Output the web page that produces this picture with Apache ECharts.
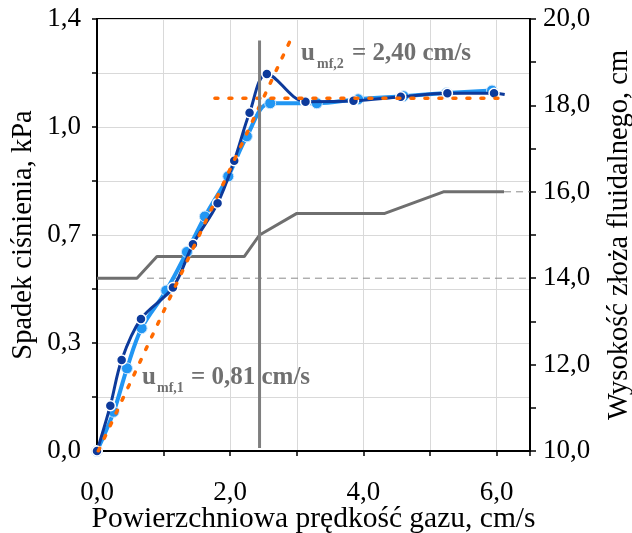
<!DOCTYPE html>
<html>
<head>
<meta charset="utf-8">
<script src="https://cdn.jsdelivr.net/npm/echarts@6/dist/echarts.min.js"></script>
<style>
html,body{margin:0;padding:0;background:#fff;}
#chart{width:632px;height:533px;}
</style>
</head>
<body>
<div id="chart"></div>
<script>
// ---- data ----
var darkX = [0, 0.2, 0.37, 0.66, 1.14, 1.44, 1.81, 2.06, 2.29, 2.55, 3.13, 3.85, 4.56, 5.26, 5.96, 6.12];
var darkY = [0, 0.147, 0.295, 0.428, 0.53, 0.67, 0.803, 0.941, 1.096, 1.222, 1.132, 1.135, 1.148, 1.159, 1.159, 1.155];
var lightX = [0, 0.25, 0.45, 0.67, 1.04, 1.35, 1.62, 1.97, 2.25, 2.6, 3.3, 3.92, 4.6, 5.25, 5.93];
var lightY = [0, 0.127, 0.268, 0.398, 0.52, 0.645, 0.76, 0.89, 1.02, 1.127, 1.127, 1.14, 1.15, 1.16, 1.168];
var heightX = [0, 0.6, 0.9, 2.21, 2.44, 3.0, 4.32, 5.2, 6.11];
var heightY = [14, 14, 14.5, 14.5, 15, 15.5, 15.5, 16, 16];
var ref14X = [0.75, 6.5], ref14Y = [14, 14];
var ref16X = [6.11, 6.5], ref16Y = [16, 16];
var fitRiseX = [0.02, 2.9], fitRiseY = [0, 1.33];
var fitFlatX = [1.77, 6.16], fitFlatY = [1.143, 1.143];
var umfLineX = [2.44, 2.44], umfLineY = [0.01, 1.33];

var xLabelValues = [0, 2, 4, 6], xLabelTexts = ['0,0', '2,0', '4,0', '6,0'];
var yLabelValues = [0, 0.35, 0.7, 1.05, 1.4], yLabelTexts = ['0,0', '0,3', '0,7', '1,0', '1,4'];
var y2LabelValues = [10, 12, 14, 16, 18, 20], y2LabelTexts = ['10,0', '12,0', '14,0', '16,0', '18,0', '20,0'];

var xTitle = 'Powierzchniowa prędkość gazu, cm/s';
var yTitle = 'Spadek ciśnienia, kPa';
var y2Title = 'Wysokość złoża fluidalnego, cm';
var ann1 = {u: 'u', sub: 'mf,1', rest: '= 0,81 cm/s'};
var ann2 = {u: 'u', sub: 'mf,2', rest: '= 2,40 cm/s'};

function zip(xs, ys) { return xs.map(function (x, i) { return [x, ys[i]]; }); }
function fmt(vals, texts) {
  return function (v) {
    for (var i = 0; i < vals.length; i++) if (Math.abs(v - vals[i]) < 1e-6) return texts[i];
    return '';
  };
}

var FONT = 'Liberation Serif';
var chart = echarts.init(document.getElementById('chart'));
var darkData = zip(darkX, darkY).map(function (p, i) {
  return i === darkX.length - 1 ? {value: p, symbol: 'none'} : p;
});

var option = {
  animation: false,
  backgroundColor: '#fff',
  grid: {left: 97, right: 102, top: 19, bottom: 82, show: true, borderColor: '#000', borderWidth: 2,
         containLabel: false, outerBoundsMode: 'none'},
  xAxis: {
    type: 'value', min: 0, max: 6.5, interval: 1,
    name: xTitle, nameLocation: 'middle', nameGap: 53, nameMoveOverlap: false,
    nameTextStyle: {fontFamily: FONT, fontSize: 29.5, color: '#000'},
    axisLine: {show: true, onZero: false, lineStyle: {color: '#000', width: 2}},
    axisTick: {show: true, inside: false, length: 5, lineStyle: {color: '#000', width: 1.5}},
    axisLabel: {margin: 28, fontFamily: FONT, fontSize: 27, color: '#000', formatter: fmt(xLabelValues, xLabelTexts), hideOverlap: false},
    splitLine: {show: true, lineStyle: {color: '#d9d9d9', width: 1}}
  },
  yAxis: [{
    type: 'value', min: 0, max: 1.4, interval: 0.175, position: 'left',
    name: yTitle, nameLocation: 'middle', nameGap: 59, nameRotate: 90, nameMoveOverlap: false,
    nameTextStyle: {fontFamily: FONT, fontSize: 28.5, color: '#000'},
    axisLine: {show: true, lineStyle: {color: '#000', width: 2}},
    axisTick: {show: true, inside: false, length: 5, lineStyle: {color: '#000', width: 1.5}},
    axisLabel: {margin: 16, fontFamily: FONT, fontSize: 27, color: '#000', formatter: fmt(yLabelValues, yLabelTexts), hideOverlap: false},
    splitLine: {show: true, lineStyle: {color: '#d9d9d9', width: 1}}
  }, {
    type: 'value', min: 10, max: 20, interval: 1, position: 'right',
    name: y2Title, nameLocation: 'middle', nameGap: 75, nameRotate: 90, nameMoveOverlap: false,
    nameTextStyle: {fontFamily: FONT, fontSize: 28.5, color: '#000'},
    axisLine: {show: true, lineStyle: {color: '#000', width: 2}},
    axisTick: {show: true, inside: false, length: 6, lineStyle: {color: '#000', width: 1.5}},
    axisLabel: {margin: 13, fontFamily: FONT, fontSize: 27, color: '#000', formatter: fmt(y2LabelValues, y2LabelTexts), hideOverlap: false},
    splitLine: {show: false}
  }],
  series: [
    {type: 'line', name: 'height', yAxisIndex: 1, data: zip(heightX, heightY), symbol: 'none', z: 2,
     lineStyle: {color: '#6f6f6f', width: 3}},
    {type: 'line', name: 'ref14', yAxisIndex: 1, data: zip(ref14X, ref14Y), symbol: 'none', z: 2,
     lineStyle: {color: '#8a8a8a', width: 1, type: [7, 5]}},
    {type: 'line', name: 'ref16', yAxisIndex: 1, data: zip(ref16X, ref16Y), symbol: 'none', z: 2,
     lineStyle: {color: '#8a8a8a', width: 1, type: [7, 5]}},
    {type: 'line', name: 'light', data: zip(lightX, lightY), smooth: 0.35, symbol: 'circle', symbolSize: 11, showAllSymbol: true, z: 3,
     lineStyle: {color: '#2196f3', width: 4}, itemStyle: {color: '#2196f3', borderColor: '#cfe6fb', borderWidth: 1}},
    {type: 'line', name: 'dark', data: darkData, smooth: 0.35, symbol: 'circle', symbolSize: 10, showAllSymbol: true, z: 4,
     lineStyle: {color: '#0d3a9b', width: 3}, itemStyle: {color: '#0d3a9b', borderColor: '#ffffff', borderWidth: 1.5}},
    {type: 'line', name: 'fitRise', data: zip(fitRiseX, fitRiseY), symbol: 'none', z: 5,
     lineStyle: {color: '#ff6a00', width: 3.5, type: [3, 11], cap: 'round'}},
    {type: 'line', name: 'fitFlat', data: zip(fitFlatX, fitFlatY), symbol: 'none', z: 5,
     lineStyle: {color: '#ff6a00', width: 3.5, type: [3, 11], cap: 'round'}},
    {type: 'line', name: 'umf', data: zip(umfLineX, umfLineY), symbol: 'none', z: 6,
     lineStyle: {color: '#7f7f7f', width: 3}}
  ],
  graphic: [
    {type: 'text', x: 142, y: 378, z: 100, style: {text: ann1.u, fontFamily: FONT, fontSize: 25, fontWeight: 'bold', fill: '#707070', verticalAlign: 'middle', align: 'left'}},
    {type: 'text', x: 157, y: 388, z: 100, style: {text: ann1.sub, fontFamily: FONT, fontSize: 14, fontWeight: 'bold', fill: '#707070', verticalAlign: 'middle', align: 'left'}},
    {type: 'text', x: 191, y: 378, z: 100, style: {text: ann1.rest, fontFamily: FONT, fontSize: 25, fontWeight: 'bold', fill: '#707070', verticalAlign: 'middle', align: 'left'}},
    {type: 'text', x: 301, y: 54, z: 100, style: {text: ann2.u, fontFamily: FONT, fontSize: 25, fontWeight: 'bold', fill: '#707070', verticalAlign: 'middle', align: 'left'}},
    {type: 'text', x: 317, y: 64, z: 100, style: {text: ann2.sub, fontFamily: FONT, fontSize: 14, fontWeight: 'bold', fill: '#707070', verticalAlign: 'middle', align: 'left'}},
    {type: 'text', x: 352, y: 54, z: 100, style: {text: ann2.rest, fontFamily: FONT, fontSize: 25, fontWeight: 'bold', fill: '#707070', verticalAlign: 'middle', align: 'left'}}
  ]
};
chart.setOption(option);
</script>
</body>
</html>
